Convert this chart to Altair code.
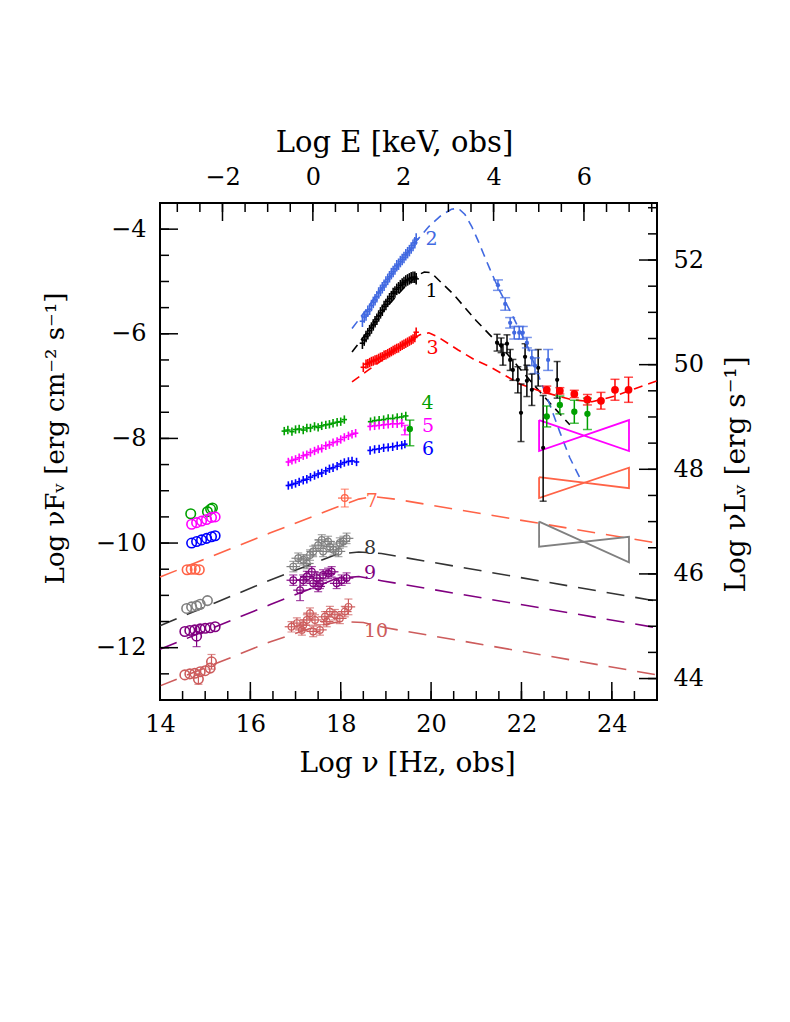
import altair as alt
import pandas as pd

FONT = "DejaVu Serif"
W = H = 497
MAJ, MIN = 18, 9

# ---------------- axes ----------------
X_DOM = [14, 25]
Y_DOM = [-13, -3.5]
E_OFF = 17.383      # log10(Hz per keV)
L_OFF = 56.59       # log10(4 pi d_L^2)

X_MAJOR = [14, 16, 18, 20, 22, 24]
Y_MAJOR = [-12, -10, -8, -6, -4]
E_MAJOR = [-2, 0, 2, 4, 6]
L_MAJOR = [44, 46, 48, 50, 52]
X_MINOR = [14.5, 15, 15.5, 16, 16.5, 17, 17.5, 18, 18.5, 19, 19.5, 20, 20.5, 21,
           21.5, 22, 22.5, 23, 23.5, 24, 24.5]
Y_MINOR = [-12.5, -12, -11.5, -11, -10.5, -10, -9.5, -9, -8.5, -8, -7.5, -7, -6.5,
           -6, -5.5, -5, -4.5, -4]
E_MINOR = [-3, -2.5, -2, -1.5, -1, -0.5, 0, 0.5, 1, 1.5, 2, 2.5, 3, 3.5, 4, 4.5, 5,
           5.5, 6, 6.5, 7, 7.5]
L_MINOR = [44, 44.5, 45, 45.5, 46, 46.5, 47, 47.5, 48, 48.5, 49, 49.5, 50, 50.5, 51,
           51.5, 52, 52.5, 53]

COLORS = {"1": "#000000", "2": "#4169E1", "3": "#FF0000", "4": "#00A000",
          "5": "#FF00FF", "6": "#0000FF", "7": "#FF6347", "8": "#808080",
          "9": "#800080", "10": "#CD5C5C"}

# ---------------- models ----------------
MOD1_X = [18.25, 18.6, 19.0, 19.4, 19.7, 19.85, 20.0, 20.2, 20.5, 21.0, 21.5, 22.0, 22.5, 23.07]
MOD1_Y = [-6.35, -5.95, -5.5, -5.12, -4.88, -4.82, -4.83, -5.0, -5.25, -5.75, -6.2, -6.7, -7.2, -7.74]
MOD2_X = [18.25, 18.6, 19.0, 19.4, 19.7, 19.95, 20.22, 20.45, 20.6, 20.75, 20.9, 21.03, 21.15,
          21.3, 21.5, 21.8, 22.15, 22.4, 22.63, 22.85, 23.07, 23.32]
MOD2_Y = [-5.9, -5.5, -5.02, -4.55, -4.2, -3.95, -3.74, -3.62, -3.6, -3.72, -3.95, -4.2, -4.45,
          -4.76, -5.15, -5.65, -6.27, -6.85, -7.36, -7.88, -8.37, -8.8]
MOD3_X = [18.25, 18.6, 19.0, 19.4, 19.75, 19.95, 20.13, 20.6, 20.97, 21.3, 21.97, 22.46, 23.12,
          23.56, 24.07, 24.51, 25.0]
MOD3_Y = [-6.92, -6.7, -6.45, -6.2, -6.02, -5.98, -6.05, -6.31, -6.5, -6.63, -6.96, -7.11, -7.26,
          -7.3, -7.19, -7.05, -6.9]
MOD7_X = [14.0, 16.43, 17.98, 18.4, 18.7, 19.2, 25.0]
MOD7_Y = [-10.65, -9.81, -9.29, -9.16, -9.11, -9.16, -10.0]
MOD8_X = [14.0, 16.43, 17.9, 18.4, 18.9, 25.0]
MOD8_Y = [-11.58, -10.71, -10.22, -10.17, -10.2, -11.11]
MOD9_X = [14.0, 16.43, 17.9, 18.4, 18.9, 25.0]
MOD9_Y = [-12.03, -11.18, -10.68, -10.64, -10.72, -11.62]
MOD10_X = [14.0, 16.43, 17.5, 18.0, 18.5, 19.0, 25.0]
MOD10_Y = [-12.73, -11.89, -11.58, -11.5, -11.52, -11.62, -12.52]

MODELS = [
    (MOD1_X, MOD1_Y, "#000000", [9, 6]),
    (MOD2_X, MOD2_Y, "#4169E1", [9, 6]),
    (MOD3_X, MOD3_Y, "#FF0000", [9, 6]),
    (MOD7_X, MOD7_Y, "#FF6347", [18, 11]),
    (MOD8_X, MOD8_Y, "#333333", [18, 11]),
    (MOD9_X, MOD9_Y, "#800080", [18, 11]),
    (MOD10_X, MOD10_Y, "#CD5C5C", [18, 11]),
]

# ---------------- bow ties (gamma-ray slopes) ----------------
BOW_COLOR = ["#FF00FF", "#FF6347", "#808080"]
BOW_X1 = [22.39, 22.39, 22.39]
BOW_X2 = [24.38, 24.38, 24.38]
BOW_LT = [-7.65, -8.74, -9.59]
BOW_LB = [-8.24, -9.14, -10.07]
BOW_RT = [-7.65, -8.56, -9.88]
BOW_RB = [-8.24, -8.95, -10.37]

# ---------------- dense X-ray spectra ----------------
D1_X = [18.48, 18.52, 18.56, 18.60, 18.64, 18.68, 18.72, 18.76, 18.80, 18.84, 18.88, 18.92,
        18.96, 19.00, 19.04, 19.08, 19.12, 19.16, 19.20, 19.24, 19.28, 19.32, 19.36, 19.40,
        19.44, 19.48, 19.52, 19.56, 19.60, 19.64, 19.67]
D1_Y = [-6.18, -6.12, -6.05, -6.00, -5.94, -5.89, -5.83, -5.77, -5.72, -5.66, -5.60, -5.55,
        -5.48, -5.44, -5.38, -5.33, -5.29, -5.23, -5.20, -5.15, -5.12, -5.08, -5.05, -5.02,
        -4.99, -4.97, -4.95, -4.93, -4.92, -4.92, -4.95]
D2_X = D1_X
D2_Y = [-5.76, -5.68, -5.64, -5.57, -5.53, -5.46, -5.40, -5.35, -5.29, -5.22, -5.17, -5.12,
        -5.07, -5.01, -4.96, -4.91, -4.85, -4.81, -4.76, -4.70, -4.67, -4.62, -4.58, -4.54,
        -4.49, -4.45, -4.41, -4.36, -4.31, -4.26, -4.19]
D3_X = [18.50, 18.56, 18.60, 18.64, 18.68, 18.72, 18.76, 18.80, 18.84, 18.88, 18.92, 18.96,
        19.00, 19.04, 19.08, 19.12, 19.16, 19.20, 19.24, 19.28, 19.32, 19.36, 19.40, 19.44,
        19.48, 19.52, 19.56, 19.60, 19.64, 19.67]
D3_Y = [-6.64, -6.58, -6.57, -6.55, -6.53, -6.52, -6.50, -6.49, -6.47, -6.45, -6.44, -6.41,
        -6.40, -6.38, -6.36, -6.34, -6.32, -6.30, -6.28, -6.27, -6.24, -6.22, -6.20, -6.18,
        -6.16, -6.14, -6.12, -6.10, -6.07, -5.97]
D4_X = [16.75, 16.83, 16.92, 17.00, 17.08, 17.17, 17.25, 17.33, 17.42, 17.50, 17.58, 17.67,
        17.75, 17.83, 17.92, 18.00, 18.08,
        18.66, 18.75, 18.85, 18.95, 19.05, 19.15, 19.25, 19.35, 19.44]
D4_Y = [-7.86, -7.84, -7.87, -7.83, -7.82, -7.84, -7.80, -7.80, -7.77, -7.79, -7.76, -7.74,
        -7.73, -7.71, -7.69, -7.68, -7.64,
        -7.68, -7.66, -7.65, -7.64, -7.62, -7.62, -7.60, -7.59, -7.57]
D5_X = [16.84, 16.92, 17.00, 17.08, 17.17, 17.25, 17.33, 17.42, 17.50, 17.58, 17.67, 17.75,
        17.83, 17.92, 18.00, 18.08, 18.17, 18.25, 18.33,
        18.65, 18.75, 18.85, 18.95, 19.05, 19.15, 19.25, 19.35]
D5_Y = [-8.45, -8.42, -8.40, -8.37, -8.33, -8.31, -8.27, -8.24, -8.21, -8.19, -8.14, -8.12,
        -8.08, -8.06, -8.02, -7.98, -7.95, -7.92, -7.90,
        -7.77, -7.76, -7.75, -7.74, -7.73, -7.72, -7.72, -7.71]
D6_X = [16.84, 16.92, 17.00, 17.08, 17.17, 17.25, 17.33, 17.42, 17.50, 17.58, 17.67, 17.75,
        17.83, 17.92, 18.00, 18.08, 18.17, 18.25, 18.35,
        18.65, 18.75, 18.85, 18.95, 19.05, 19.15, 19.25, 19.35, 19.42]
D6_Y = [-8.90, -8.88, -8.86, -8.83, -8.80, -8.78, -8.74, -8.71, -8.68, -8.66, -8.62, -8.58,
        -8.56, -8.53, -8.49, -8.46, -8.44, -8.43, -8.45,
        -8.23, -8.21, -8.20, -8.18, -8.17, -8.16, -8.14, -8.13, -8.11]
DENSE = [("1", D1_X, D1_Y, 0.06, 0.11), ("2", D2_X, D2_Y, 0.06, 0.11),
         ("3", D3_X, D3_Y, 0.06, 0.09), ("4", D4_X, D4_Y, 0.06, 0.08),
         ("5", D5_X, D5_Y, 0.06, 0.08), ("6", D6_X, D6_Y, 0.06, 0.08)]

# ---------------- points with error bars ----------------
HE1_X = [21.46, 21.55, 21.59, 21.68, 21.75, 21.81, 21.92, 21.99, 22.08, 22.12, 22.23, 22.37, 22.48, 22.79]
HE1_Y = [-6.17, -6.22, -6.40, -6.19, -6.50, -6.69, -6.88, -7.51, -6.44, -6.90, -7.07, -6.65, -8.18, -6.88]
HE1_DN = [0.16, 0.14, 0.2, 0.17, 0.2, 0.2, 0.25, 0.55, 0.25, 0.3, 0.3, 0.35, 1.02, 0.35]
HE1_UP = [0.16, 0.14, 0.2, 0.17, 0.2, 0.2, 0.25, 0.55, 0.25, 0.3, 0.3, 0.35, 1.0, 0.35]
HE2_X = [21.48, 21.64, 21.75, 21.84, 21.95, 22.03, 22.12, 22.23, 22.30, 22.59]
HE2_Y = [-5.07, -5.43, -5.79, -5.98, -5.98, -5.98, -6.17, -6.46, -6.61, -6.50]
HE2_E = [0.1, 0.12, 0.1, 0.12, 0.12, 0.12, 0.1, 0.15, 0.15, 0.2]
HE3_X = [22.56, 22.85, 23.17, 23.46, 23.76, 24.07, 24.37]
HE3_Y = [-7.07, -7.09, -7.15, -7.26, -7.28, -7.07, -7.07]
HE3_E = [0.07, 0.06, 0.07, 0.1, 0.16, 0.2, 0.24]
HE4_X = [22.56, 22.85, 23.17, 23.46, 19.53]
HE4_Y = [-7.58, -7.36, -7.49, -7.53, -7.82]
HE4_DN = [0.2, 0.17, 0.22, 0.3, 0.32]
HE4_UP = [0.2, 0.17, 0.22, 0.3, 0.17]
HE5_X = [19.42]
HE5_Y = [-7.84]
HE5_E = [0.09]

# optical / UV photometry (open circles)
UV = {
    "4": ([14.68, 15.05, 15.12, 15.16], [-9.44, -9.40, -9.35, -9.33]),
    "5": ([14.70, 14.81, 14.92, 15.03, 15.14, 15.22], [-9.64, -9.61, -9.58, -9.55, -9.51, -9.50]),
    "6": ([14.70, 14.81, 14.92, 15.03, 15.14, 15.22], [-10.00, -9.97, -9.94, -9.91, -9.88, -9.86]),
    "7": ([14.60, 14.69, 14.78, 14.87], [-10.51, -10.50, -10.50, -10.51]),
    "8": ([14.59, 14.70, 14.81, 14.89, 15.05], [-11.25, -11.22, -11.20, -11.17, -11.10]),
    "9": ([14.55, 14.66, 14.77, 14.89, 15.00, 15.11, 15.22, 14.81],
          [-11.69, -11.67, -11.66, -11.64, -11.63, -11.62, -11.60, -11.78]),
    "10": ([14.55, 14.66, 14.77, 14.89, 15.00, 15.11, 15.14, 14.85],
           [-12.52, -12.50, -12.49, -12.46, -12.44, -12.39, -12.27, -12.60]),
}
UVERR_S = ["9", "10", "10"]
UVERR_X = [14.81, 15.14, 14.85]
UVERR_Y = [-11.78, -12.27, -12.60]
UVERR_E = [0.2, 0.14, 0.1]

# X-ray points of sources 7-10 (open circles with error bars)
XC7_X = [18.09]
XC7_Y = [-9.14]
XC7_E = [0.17]
XC8_X = [16.95, 17.06, 17.17, 17.25, 17.32, 17.39, 17.50, 17.58, 17.61, 17.72, 17.76, 17.84,
         17.95, 17.98, 18.06, 18.13]
XC8_Y = [-10.45, -10.29, -10.32, -10.39, -10.23, -10.16, -10.04, -9.94, -10.16, -9.97, -10.07,
         -10.13, -10.16, -10.00, -9.97, -9.91]
XC8_E = [0.1, 0.1, 0.1, 0.1, 0.1, 0.1, 0.1, 0.1, 0.1, 0.1, 0.1, 0.1, 0.1, 0.1, 0.1, 0.1]
XC9_X = [16.95, 17.10, 17.17, 17.25, 17.36, 17.39, 17.47, 17.50, 17.54, 17.61, 17.72, 17.80,
         17.91, 18.02, 18.13]
XC9_Y = [-10.71, -10.90, -10.71, -10.64, -10.55, -10.77, -10.67, -10.83, -10.77, -10.61, -10.58,
         -10.55, -10.77, -10.71, -10.67]
XC9_E = [0.1, 0.2, 0.1, 0.1, 0.1, 0.1, 0.1, 0.1, 0.1, 0.1, 0.1, 0.1, 0.1, 0.1, 0.1]
XC10_X = [16.91, 17.03, 17.14, 17.17, 17.25, 17.32, 17.39, 17.43, 17.54, 17.65, 17.69, 17.76,
          17.87, 17.98, 18.09, 18.17]
XC10_Y = [-11.60, -11.53, -11.66, -11.57, -11.47, -11.34, -11.69, -11.47, -11.66, -11.41, -11.50,
          -11.31, -11.37, -11.44, -11.31, -11.22]
XC10_E = [0.1, 0.1, 0.1, 0.1, 0.1, 0.1, 0.1, 0.1, 0.1, 0.1, 0.1, 0.1, 0.1, 0.1, 0.1, 0.15]
XC_DX = 0.15

# source labels
LAB_T = ["1", "2", "3", "4", "5", "6", "7", "8", "9", "10"]
LAB_X = [20.01, 20.01, 20.03, 19.92, 19.93, 19.93, 18.69, 18.65, 18.65, 18.78]
LAB_Y = [-5.19, -4.19, -6.28, -7.32, -7.76, -8.21, -9.19, -10.10, -10.58, -11.69]
LAB_C = ["#000000", "#4169E1", "#FF0000", "#00A000", "#FF00FF", "#0000FF", "#FF6347",
         "#333333", "#800080", "#CD5C5C"]

# ================= build =================
xs = alt.Scale(domain=X_DOM, nice=False, zero=False)
ys = alt.Scale(domain=Y_DOM, nice=False, zero=False)
cs = alt.Scale(domain=list(COLORS.keys()), range=list(COLORS.values()))
COL = alt.Color("s:N", scale=cs, legend=None)


def X(f, axis=None):
    return alt.X(f, type="quantitative", scale=xs, axis=axis)


def Y(f, axis=None):
    return alt.Y(f, type="quantitative", scale=ys, axis=axis)


layers = []

# model curves
for mx, my, col, dash in MODELS:
    d = pd.DataFrame({"x": mx, "y": my, "i": list(range(len(mx)))})
    layers.append(alt.Chart(d).mark_line(color=col, strokeDash=dash, strokeWidth=1.6)
                  .encode(x=X("x"), y=Y("y"), order="i:Q"))

# bow ties
for k in range(len(BOW_COLOR)):
    bx = [BOW_X1[k], BOW_X2[k], BOW_X2[k], BOW_X1[k], BOW_X1[k]]
    by = [BOW_LT[k], BOW_RB[k], BOW_RT[k], BOW_LB[k], BOW_LT[k]]
    d = pd.DataFrame({"x": bx, "y": by, "i": list(range(5))})
    layers.append(alt.Chart(d).mark_line(color=BOW_COLOR[k], strokeWidth=1.8)
                  .encode(x=X("x"), y=Y("y"), order="i:Q"))

# dense spectra: crosses
rows = []
for s, dx_, dy_, ex, ey in DENSE:
    for xv, yv in zip(dx_, dy_):
        rows.append({"s": s, "x": xv, "y": yv, "xlo": xv - ex, "xhi": xv + ex,
                     "ylo": yv - ey, "yhi": yv + ey})
dense = pd.DataFrame(rows)
layers.append(alt.Chart(dense).mark_rule(strokeWidth=1.6)
              .encode(x=X("x"), y=Y("ylo"), y2=alt.Y2("yhi"), color=COL))
layers.append(alt.Chart(dense).mark_rule(strokeWidth=1.6)
              .encode(x=X("xlo"), x2=alt.X2("xhi"), y=Y("y"), color=COL))

# points with vertical error bars and filled dots
rows = []
def add_he(s, xl, yl, dn, up, cap, ms):
    for xv, yv, a, b in zip(xl, yl, dn, up):
        rows.append({"s": s, "x": xv, "y": yv, "ylo": yv - a, "yhi": yv + b,
                     "cap": cap, "ms": ms})
add_he("1", HE1_X, HE1_Y, HE1_DN, HE1_UP, 7, 18)
add_he("2", HE2_X, HE2_Y, HE2_E, HE2_E, 10, 18)
add_he("3", HE3_X, HE3_Y, HE3_E, HE3_E, 9, 60)
add_he("4", HE4_X, HE4_Y, HE4_DN, HE4_UP, 9, 40)
add_he("5", HE5_X, HE5_Y, HE5_E, HE5_E, 8, 10)
he = pd.DataFrame(rows)
layers.append(alt.Chart(he).mark_rule(strokeWidth=1.5)
              .encode(x=X("x"), y=Y("ylo"), y2=alt.Y2("yhi"), color=COL))
for f in ["ylo", "yhi"]:
    layers.append(alt.Chart(he).mark_tick(orient="horizontal", thickness=1.5)
                  .encode(x=X("x"), y=Y(f), color=COL,
                          size=alt.Size("cap:Q", scale=None, legend=None)))
layers.append(alt.Chart(he).mark_point(filled=True, shape="circle", opacity=1)
              .encode(x=X("x"), y=Y("y"), color=COL,
                      size=alt.Size("ms:Q", scale=None, legend=None)))

# X-ray open circles of sources 7-10 and optical error bars
rows = []
for s, xl, yl, el in [("7", XC7_X, XC7_Y, XC7_E), ("8", XC8_X, XC8_Y, XC8_E),
                      ("9", XC9_X, XC9_Y, XC9_E), ("10", XC10_X, XC10_Y, XC10_E)]:
    for xv, yv, e in zip(xl, yl, el):
        rows.append({"s": s, "x": xv, "y": yv, "ylo": yv - e, "yhi": yv + e,
                     "xlo": xv - XC_DX, "xhi": xv + XC_DX, "k": "x"})
for s, xv, yv, e in zip(UVERR_S, UVERR_X, UVERR_Y, UVERR_E):
    rows.append({"s": s, "x": xv, "y": yv, "ylo": yv - e, "yhi": yv + e,
                 "xlo": xv, "xhi": xv, "k": "o"})
xc = pd.DataFrame(rows)
layers.append(alt.Chart(xc).mark_rule(strokeWidth=1.2)
              .encode(x=X("x"), y=Y("ylo"), y2=alt.Y2("yhi"), color=COL))
layers.append(alt.Chart(xc).mark_rule(strokeWidth=1.2)
              .encode(x=X("xlo"), x2=alt.X2("xhi"), y=Y("y"), color=COL))
for f in ["ylo", "yhi"]:
    layers.append(alt.Chart(xc).mark_tick(orient="horizontal", thickness=1.2, size=8)
                  .encode(x=X("x"), y=Y(f), color=COL))
layers.append(alt.Chart(xc[xc["k"] == "x"])
              .mark_point(filled=False, shape="circle", size=45, strokeWidth=1.2, opacity=1)
              .encode(x=X("x"), y=Y("y"), color=COL))

# optical / UV open circles
rows = []
for s, (xl, yl) in UV.items():
    for xv, yv in zip(xl, yl):
        rows.append({"s": s, "x": xv, "y": yv})
uv = pd.DataFrame(rows)
layers.append(alt.Chart(uv).mark_point(filled=False, shape="circle", size=90,
                                       strokeWidth=1.6, opacity=1)
              .encode(x=X("x"), y=Y("y"), color=COL))

# source labels
lab = pd.DataFrame({"t": LAB_T, "x": LAB_X, "y": LAB_Y, "c": LAB_C})
layers.append(alt.Chart(lab).mark_text(font=FONT, fontSize=19, align="center",
                                       baseline="middle")
              .encode(x=X("x"), y=Y("y"), text="t:N",
                      color=alt.Color("c:N", scale=None, legend=None)))

# ---------------- axes (inward ticks drawn as rules) ----------------
lab_kw = dict(ticks=False, tickSize=0, domain=False, grid=False, labelFont=FONT,
              labelFontSize=24, labelColor="black", labelFlush=False, labelOverlap=False,
              titleFont=FONT, titleFontWeight="normal",
              titleColor="black", titleBaseline="alphabetic", titleAlign="center")

E_MAJOR_NU = [e + E_OFF for e in E_MAJOR]
E_MINOR_NU = [e + E_OFF for e in E_MINOR]
L_MAJOR_F = [v - L_OFF for v in L_MAJOR]
L_MINOR_F = [v - L_OFF for v in L_MINOR]

ax_bottom = alt.Axis(orient="bottom", values=X_MAJOR, format="d", labelPadding=12,
                     title="Log ν [Hz, obs]", titleFontSize=28, titleX=247, titleY=71,
                     **lab_kw)
ax_left = alt.Axis(orient="left", values=Y_MAJOR, format="d", labelPadding=14,
                   title="Log νFᵥ [erg cm⁻² s⁻¹]", titleFontSize=26, titleAngle=270,
                   titleX=-97, titleY=235, **lab_kw)
ax_top = alt.Axis(orient="top", values=E_MAJOR_NU,
                  labelExpr=f"format(round(datum.value - {E_OFF}) + 0, 'd')",
                  labelPadding=14, title="Log E [keV, obs]", titleFontSize=29,
                  titleX=234, titleY=-52, **lab_kw)
ax_right = alt.Axis(orient="right", values=L_MAJOR_F,
                    labelExpr=f"format(round(datum.value + {L_OFF}) + 0, 'd')",
                    labelPadding=16, title="Log νLᵥ [erg s⁻¹]", titleFontSize=28,
                    titleAngle=270, titleX=87, titleY=271, **lab_kw)

TK = dict(color="black", strokeWidth=1.5)


def tick_layer(vals, channel, axis, p0, p1):
    d = pd.DataFrame({"v": vals})
    if channel == "x":
        return alt.Chart(d).mark_rule(**TK).encode(
            x=X("v", axis), y=alt.value(p0), y2=alt.value(p1))
    return alt.Chart(d).mark_rule(**TK).encode(
        y=Y("v", axis), x=alt.value(p0), x2=alt.value(p1))


layers += [
    tick_layer(X_MINOR, "x", ax_bottom, H, H - MIN),
    tick_layer(X_MAJOR, "x", None, H, H - MAJ),
    tick_layer(E_MINOR_NU, "x", ax_top, 0, MIN),
    tick_layer(E_MAJOR_NU, "x", None, 0, MAJ),
    tick_layer(Y_MINOR, "y", ax_left, 0, MIN),
    tick_layer(Y_MAJOR, "y", None, 0, MAJ),
    tick_layer(L_MINOR_F, "y", ax_right, W, W - MIN),
    tick_layer(L_MAJOR_F, "y", None, W, W - MAJ),
]

chart = (
    alt.layer(*layers)
    .resolve_axis(x="independent", y="independent")
    .properties(width=W, height=H, autosize=alt.AutoSizeParams(type="none"),
                padding={"left": 152, "top": 195, "right": 125, "bottom": 300},
                background="white")
    .configure_view(stroke="black", strokeWidth=2)
)

chart.save("out.html", embed_options={"renderer": "svg", "actions": False})
